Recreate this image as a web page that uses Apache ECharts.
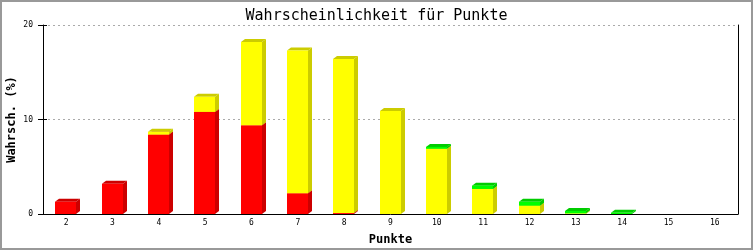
<!DOCTYPE html>
<html>
<head>
<meta charset="utf-8">
<script src="https://cdn.jsdelivr.net/npm/echarts@6/dist/echarts.min.js"></script>
<style>html,body{margin:0;padding:0;background:#fff}#c{width:753px;height:250px}</style>
</head>
<body>
<div id="c"></div>
<script>
const categories = ['2','3','4','5','6','7','8','9','10','11','12','13','14','15','16'];
const redValues    = [1.3, 3.2, 8.4, 10.8, 9.4, 2.2, 0.1, 0, 0, 0, 0, 0, 0, 0, 0];
const yellowValues = [0, 0, 0.3, 1.6, 8.8, 15.1, 16.3, 10.9, 6.9, 2.65, 0.88, 0.07, 0, 0, 0];
const greenValues  = [0, 0, 0, 0, 0, 0, 0, 0, 0.2, 0.35, 0.42, 0.25, 0.13, 0, 0];
const yTicks = [0, 10, 20];

const layers = [
  {name: 'rot', values: redValues, front: '#ff0000', dark: '#cc0000'},
  {name: 'gelb', values: yellowValues, front: '#ffff00', dark: '#cccc00'},
  {name: 'grün', values: greenValues, front: '#00ff00', dark: '#00cc00'}
];
const base = categories.map(() => 0);
const FW = 21, DX = 4, DY = 3;

function makeRender(front, dark) {
  return function (params, api) {
    const i = api.value(0), b = api.value(1), t = api.value(2);
    if (t - b <= 0) return null;
    const pTop = api.coord([i, t]);
    const pBase = api.coord([i, b]);
    const x0 = Math.round(pTop[0] - 11), x1 = x0 + FW;
    const yT = pTop[1], yB = pBase[1];
    return {
      type: 'group',
      children: [
        {type: 'polygon', shape: {points: [[x1, yT], [x1 + DX, yT - DY], [x1 + DX, yB - DY], [x1, yB]]}, style: {fill: dark}},
        {type: 'polygon', shape: {points: [[x0, yT], [x0 + DX, yT - DY], [x1 + DX, yT - DY], [x1, yT]]}, style: {fill: dark}},
        {type: 'rect', shape: {x: x0, y: yT, width: FW, height: yB - yT}, style: {fill: front}}
      ]
    };
  };
}

const series = layers.map(L => {
  const data = L.values.map((v, i) => {
    const b = base[i];
    base[i] += v;
    return [i, b, b + v];
  });
  return {
    type: 'custom', name: L.name, renderItem: makeRender(L.front, L.dark),
    data: data, encode: {x: 0, y: [1, 2]}, clip: false
  };
});

const mono = 'DejaVu Sans Mono';
const chart = echarts.init(document.getElementById('c'), null, {renderer: 'canvas'});
chart.setOption({
  animation: false,
  backgroundColor: '#fff',
  title: {
    text: 'Wahrscheinlichkeit für Punkte', left: 'center', top: 4,
    textStyle: {fontFamily: mono, fontSize: 15, fontWeight: 'normal', color: '#000'}
  },
  graphic: [{type: 'rect', shape: {x: 1, y: 1, width: 751, height: 248}, style: {fill: 'none', stroke: '#999', lineWidth: 2}, silent: true}],
  grid: {left: 43, right: 15, top: 25, bottom: 36, containLabel: false, outerBoundsMode: 'none'},
  xAxis: {
    type: 'category', data: categories,
    name: 'Punkte', nameLocation: 'middle', nameGap: 20, nameMoveOverlap: false,
    nameTextStyle: {fontFamily: mono, fontSize: 12, fontWeight: 'bold', color: '#000'},
    axisLine: {lineStyle: {color: '#000', width: 1}},
    axisTick: {show: false},
    axisLabel: {fontFamily: mono, fontSize: 8, color: '#000', margin: 5}
  },
  yAxis: [{
    type: 'value', min: 0, max: 20, interval: 10,
    name: 'Wahrsch. (%)', nameLocation: 'middle', nameGap: 25, nameRotate: 90, nameMoveOverlap: false,
    nameTextStyle: {fontFamily: mono, fontSize: 12, fontWeight: 'bold', color: '#000'},
    axisLine: {show: true, lineStyle: {color: '#000', width: 1}},
    axisTick: {show: true, length: 5, lineStyle: {color: '#000'}},
    axisLabel: {fontFamily: mono, fontSize: 8, color: '#000', margin: 10,
      formatter: v => yTicks.includes(v) ? String(v) : ''},
    splitLine: {show: true, lineStyle: {color: '#aaaaaa', type: [2, 3], width: 1}}
  }, {
    type: 'value', min: 0, max: 20, interval: 10, position: 'left', offset: 0,
    axisLine: {show: false},
    axisTick: {show: true, inside: true, length: 4, lineStyle: {color: '#000'}},
    axisLabel: {show: false}, splitLine: {show: false}
  }, {
    type: 'value', min: 0, max: 20, interval: 10, position: 'right',
    axisLine: {show: true, lineStyle: {color: '#000', width: 1}},
    axisTick: {show: false}, axisLabel: {show: false}, splitLine: {show: false}
  }],
  series: series
});
</script>
</body>
</html>
